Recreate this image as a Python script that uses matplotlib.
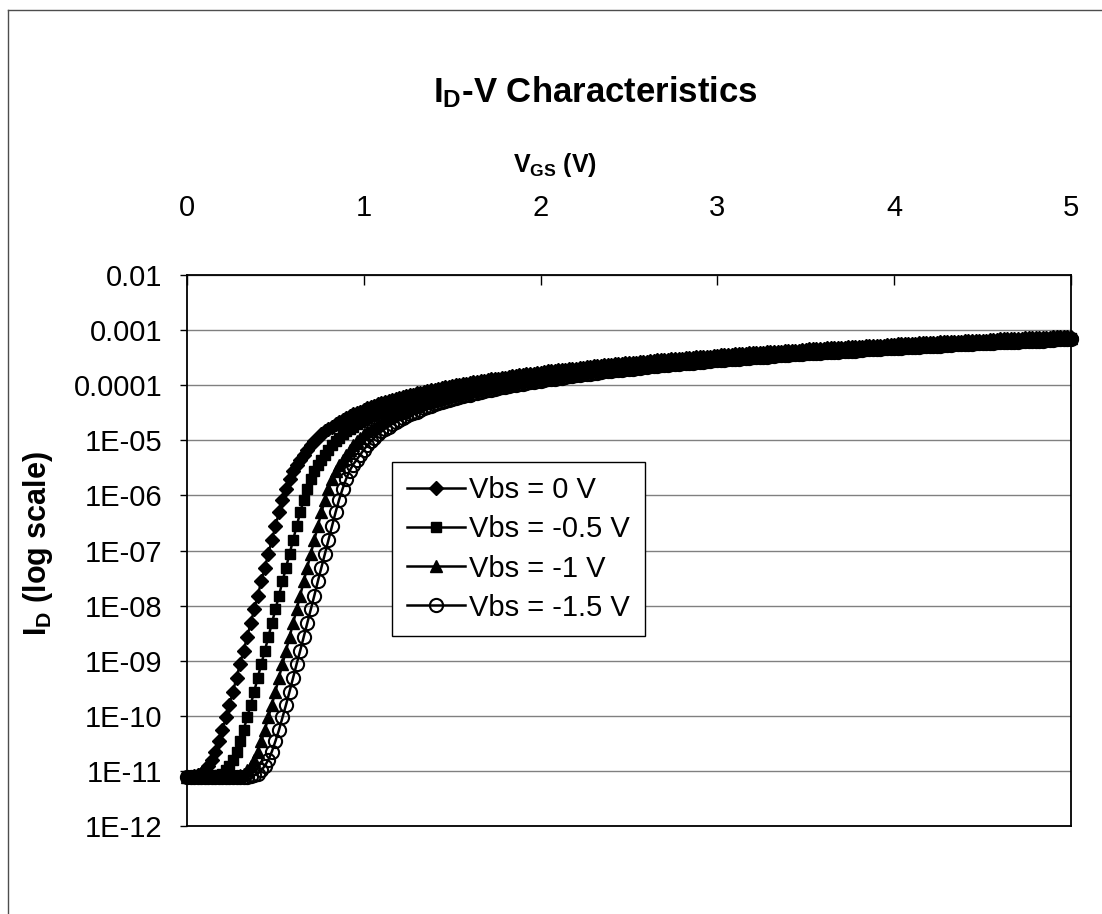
import numpy as np
import matplotlib
matplotlib.use('Agg')
import matplotlib.pyplot as plt
from matplotlib.lines import Line2D
from matplotlib.ticker import NullLocator

plt.rcParams['font.family'] = ['Liberation Sans', 'DejaVu Sans']
plt.rcParams['mathtext.default'] = 'regular'

# ==========================================
# Sweep: VGS from 0 to 5 V in 20 mV steps
# ==========================================
VGS_STEP = 0.02
vgs = np.round(np.arange(0, 5 + VGS_STEP / 2, VGS_STEP), 2)

# log10(ID) at every sweep point, one list per body bias
log_id_vbs_0 = [
    -11.12, -11.11, -11.10, -11.08, -11.05, -10.99, -10.91, -10.80, -10.65, -10.46,
    -10.26, -10.03, -9.80, -9.56, -9.31, -9.06, -8.82, -8.57, -8.32, -8.07,
    -7.82, -7.56, -7.31, -7.06, -6.81, -6.56, -6.31, -6.08, -5.88, -5.70,
    -5.55, -5.44, -5.35, -5.26, -5.17, -5.09, -5.02, -4.95, -4.89, -4.84,
    -4.79, -4.75, -4.70, -4.67, -4.63, -4.60, -4.56, -4.53, -4.50, -4.48,
    -4.45, -4.42, -4.40, -4.38, -4.35, -4.33, -4.31, -4.29, -4.27, -4.25,
    -4.24, -4.22, -4.20, -4.18, -4.17, -4.15, -4.14, -4.12, -4.11, -4.09,
    -4.08, -4.07, -4.05, -4.04, -4.03, -4.02, -4.00, -3.99, -3.98, -3.97,
    -3.96, -3.95, -3.94, -3.93, -3.92, -3.90, -3.89, -3.89, -3.88, -3.87,
    -3.86, -3.85, -3.84, -3.83, -3.82, -3.81, -3.80, -3.79, -3.79, -3.78,
    -3.77, -3.76, -3.75, -3.75, -3.74, -3.73, -3.72, -3.72, -3.71, -3.70,
    -3.70, -3.69, -3.68, -3.67, -3.67, -3.66, -3.65, -3.65, -3.64, -3.64,
    -3.63, -3.62, -3.62, -3.61, -3.60, -3.60, -3.59, -3.59, -3.58, -3.57,
    -3.57, -3.56, -3.56, -3.55, -3.55, -3.54, -3.54, -3.53, -3.53, -3.52,
    -3.52, -3.51, -3.50, -3.50, -3.49, -3.49, -3.48, -3.48, -3.48, -3.47,
    -3.47, -3.46, -3.46, -3.45, -3.45, -3.44, -3.44, -3.43, -3.43, -3.42,
    -3.42, -3.42, -3.41, -3.41, -3.40, -3.40, -3.39, -3.39, -3.39, -3.38,
    -3.38, -3.37, -3.37, -3.37, -3.36, -3.36, -3.35, -3.35, -3.35, -3.34,
    -3.34, -3.33, -3.33, -3.33, -3.32, -3.32, -3.32, -3.31, -3.31, -3.31,
    -3.30, -3.30, -3.29, -3.29, -3.29, -3.28, -3.28, -3.28, -3.27, -3.27,
    -3.27, -3.26, -3.26, -3.26, -3.25, -3.25, -3.25, -3.24, -3.24, -3.24,
    -3.23, -3.23, -3.23, -3.22, -3.22, -3.22, -3.22, -3.21, -3.21, -3.21,
    -3.20, -3.20, -3.20, -3.19, -3.19, -3.19, -3.19, -3.18, -3.18, -3.18,
    -3.17, -3.17, -3.17, -3.17, -3.16, -3.16, -3.16, -3.15, -3.15, -3.15,
    -3.15, -3.14, -3.14, -3.14, -3.14, -3.13, -3.13, -3.13, -3.12, -3.12,
    -3.12,
]

log_id_vbs_05 = [
    -11.12, -11.12, -11.12, -11.12, -11.12, -11.12,
    -11.12, -11.11, -11.10, -11.08, -11.05, -10.99, -10.91, -10.80, -10.65, -10.46,
    -10.26, -10.03, -9.80, -9.56, -9.31, -9.06, -8.82, -8.57, -8.32, -8.07,
    -7.82, -7.56, -7.31, -7.06, -6.81, -6.56, -6.31, -6.08, -5.88, -5.70,
    -5.55, -5.44, -5.35, -5.26, -5.17, -5.09, -5.02, -4.95, -4.89, -4.84,
    -4.79, -4.75, -4.70, -4.67, -4.63, -4.60, -4.56, -4.53, -4.50, -4.48,
    -4.45, -4.42, -4.40, -4.38, -4.35, -4.33, -4.31, -4.29, -4.27, -4.25,
    -4.24, -4.22, -4.20, -4.18, -4.17, -4.15, -4.14, -4.12, -4.11, -4.09,
    -4.08, -4.07, -4.05, -4.04, -4.03, -4.02, -4.00, -3.99, -3.98, -3.97,
    -3.96, -3.95, -3.94, -3.93, -3.92, -3.90, -3.89, -3.89, -3.88, -3.87,
    -3.86, -3.85, -3.84, -3.83, -3.82, -3.81, -3.80, -3.79, -3.79, -3.78,
    -3.77, -3.76, -3.75, -3.75, -3.74, -3.73, -3.72, -3.72, -3.71, -3.70,
    -3.70, -3.69, -3.68, -3.67, -3.67, -3.66, -3.65, -3.65, -3.64, -3.64,
    -3.63, -3.62, -3.62, -3.61, -3.60, -3.60, -3.59, -3.59, -3.58, -3.57,
    -3.57, -3.56, -3.56, -3.55, -3.55, -3.54, -3.54, -3.53, -3.53, -3.52,
    -3.52, -3.51, -3.50, -3.50, -3.49, -3.49, -3.48, -3.48, -3.48, -3.47,
    -3.47, -3.46, -3.46, -3.45, -3.45, -3.44, -3.44, -3.43, -3.43, -3.42,
    -3.42, -3.42, -3.41, -3.41, -3.40, -3.40, -3.39, -3.39, -3.39, -3.38,
    -3.38, -3.37, -3.37, -3.37, -3.36, -3.36, -3.35, -3.35, -3.35, -3.34,
    -3.34, -3.33, -3.33, -3.33, -3.32, -3.32, -3.32, -3.31, -3.31, -3.31,
    -3.30, -3.30, -3.29, -3.29, -3.29, -3.28, -3.28, -3.28, -3.27, -3.27,
    -3.27, -3.26, -3.26, -3.26, -3.25, -3.25, -3.25, -3.24, -3.24, -3.24,
    -3.23, -3.23, -3.23, -3.22, -3.22, -3.22, -3.22, -3.21, -3.21, -3.21,
    -3.20, -3.20, -3.20, -3.19, -3.19, -3.19, -3.19, -3.18, -3.18, -3.18,
    -3.17, -3.17, -3.17, -3.17, -3.16, -3.16, -3.16, -3.15, -3.15, -3.15,
    -3.15, -3.14, -3.14, -3.14, -3.14,
]

log_id_vbs_1 = [
    -11.12, -11.12, -11.12, -11.12, -11.12, -11.12,
    -11.12, -11.12, -11.12, -11.12, -11.12, -11.12,
    -11.12, -11.11, -11.10, -11.08, -11.05, -10.99, -10.91, -10.80, -10.65, -10.46,
    -10.26, -10.03, -9.80, -9.56, -9.31, -9.06, -8.82, -8.57, -8.32, -8.07,
    -7.82, -7.56, -7.31, -7.06, -6.81, -6.56, -6.31, -6.08, -5.88, -5.70,
    -5.55, -5.44, -5.35, -5.26, -5.17, -5.09, -5.02, -4.95, -4.89, -4.84,
    -4.79, -4.75, -4.70, -4.67, -4.63, -4.60, -4.56, -4.53, -4.50, -4.48,
    -4.45, -4.42, -4.40, -4.38, -4.35, -4.33, -4.31, -4.29, -4.27, -4.25,
    -4.24, -4.22, -4.20, -4.18, -4.17, -4.15, -4.14, -4.12, -4.11, -4.09,
    -4.08, -4.07, -4.05, -4.04, -4.03, -4.02, -4.00, -3.99, -3.98, -3.97,
    -3.96, -3.95, -3.94, -3.93, -3.92, -3.90, -3.89, -3.89, -3.88, -3.87,
    -3.86, -3.85, -3.84, -3.83, -3.82, -3.81, -3.80, -3.79, -3.79, -3.78,
    -3.77, -3.76, -3.75, -3.75, -3.74, -3.73, -3.72, -3.72, -3.71, -3.70,
    -3.70, -3.69, -3.68, -3.67, -3.67, -3.66, -3.65, -3.65, -3.64, -3.64,
    -3.63, -3.62, -3.62, -3.61, -3.60, -3.60, -3.59, -3.59, -3.58, -3.57,
    -3.57, -3.56, -3.56, -3.55, -3.55, -3.54, -3.54, -3.53, -3.53, -3.52,
    -3.52, -3.51, -3.50, -3.50, -3.49, -3.49, -3.48, -3.48, -3.48, -3.47,
    -3.47, -3.46, -3.46, -3.45, -3.45, -3.44, -3.44, -3.43, -3.43, -3.42,
    -3.42, -3.42, -3.41, -3.41, -3.40, -3.40, -3.39, -3.39, -3.39, -3.38,
    -3.38, -3.37, -3.37, -3.37, -3.36, -3.36, -3.35, -3.35, -3.35, -3.34,
    -3.34, -3.33, -3.33, -3.33, -3.32, -3.32, -3.32, -3.31, -3.31, -3.31,
    -3.30, -3.30, -3.29, -3.29, -3.29, -3.28, -3.28, -3.28, -3.27, -3.27,
    -3.27, -3.26, -3.26, -3.26, -3.25, -3.25, -3.25, -3.24, -3.24, -3.24,
    -3.23, -3.23, -3.23, -3.22, -3.22, -3.22, -3.22, -3.21, -3.21, -3.21,
    -3.20, -3.20, -3.20, -3.19, -3.19, -3.19, -3.19, -3.18, -3.18, -3.18,
    -3.17, -3.17, -3.17, -3.17, -3.16, -3.16, -3.16, -3.15, -3.15,
]

log_id_vbs_15 = [
    -11.12, -11.12, -11.12, -11.12, -11.12, -11.12, -11.12, -11.12,
    -11.12, -11.12, -11.12, -11.12, -11.12, -11.12, -11.12, -11.12,
    -11.12, -11.11, -11.10, -11.08, -11.05, -10.99, -10.91, -10.80, -10.65, -10.46,
    -10.26, -10.03, -9.80, -9.56, -9.31, -9.06, -8.82, -8.57, -8.32, -8.07,
    -7.82, -7.56, -7.31, -7.06, -6.81, -6.56, -6.31, -6.08, -5.88, -5.70,
    -5.55, -5.44, -5.35, -5.26, -5.17, -5.09, -5.02, -4.95, -4.89, -4.84,
    -4.79, -4.75, -4.70, -4.67, -4.63, -4.60, -4.56, -4.53, -4.50, -4.48,
    -4.45, -4.42, -4.40, -4.38, -4.35, -4.33, -4.31, -4.29, -4.27, -4.25,
    -4.24, -4.22, -4.20, -4.18, -4.17, -4.15, -4.14, -4.12, -4.11, -4.09,
    -4.08, -4.07, -4.05, -4.04, -4.03, -4.02, -4.00, -3.99, -3.98, -3.97,
    -3.96, -3.95, -3.94, -3.93, -3.92, -3.90, -3.89, -3.89, -3.88, -3.87,
    -3.86, -3.85, -3.84, -3.83, -3.82, -3.81, -3.80, -3.79, -3.79, -3.78,
    -3.77, -3.76, -3.75, -3.75, -3.74, -3.73, -3.72, -3.72, -3.71, -3.70,
    -3.70, -3.69, -3.68, -3.67, -3.67, -3.66, -3.65, -3.65, -3.64, -3.64,
    -3.63, -3.62, -3.62, -3.61, -3.60, -3.60, -3.59, -3.59, -3.58, -3.57,
    -3.57, -3.56, -3.56, -3.55, -3.55, -3.54, -3.54, -3.53, -3.53, -3.52,
    -3.52, -3.51, -3.50, -3.50, -3.49, -3.49, -3.48, -3.48, -3.48, -3.47,
    -3.47, -3.46, -3.46, -3.45, -3.45, -3.44, -3.44, -3.43, -3.43, -3.42,
    -3.42, -3.42, -3.41, -3.41, -3.40, -3.40, -3.39, -3.39, -3.39, -3.38,
    -3.38, -3.37, -3.37, -3.37, -3.36, -3.36, -3.35, -3.35, -3.35, -3.34,
    -3.34, -3.33, -3.33, -3.33, -3.32, -3.32, -3.32, -3.31, -3.31, -3.31,
    -3.30, -3.30, -3.29, -3.29, -3.29, -3.28, -3.28, -3.28, -3.27, -3.27,
    -3.27, -3.26, -3.26, -3.26, -3.25, -3.25, -3.25, -3.24, -3.24, -3.24,
    -3.23, -3.23, -3.23, -3.22, -3.22, -3.22, -3.22, -3.21, -3.21, -3.21,
    -3.20, -3.20, -3.20, -3.19, -3.19, -3.19, -3.19, -3.18, -3.18, -3.18,
    -3.17, -3.17, -3.17, -3.17, -3.16,
]

series_labels = ['Vbs = 0 V', 'Vbs = -0.5 V', 'Vbs = -1 V', 'Vbs = -1.5 V']
vgs_ticks = [0, 1, 2, 3, 4, 5]
id_ticks = [1e-12, 1e-11, 1e-10, 1e-9, 1e-8, 1e-7, 1e-6, 1e-5, 1e-4, 1e-3, 1e-2]
id_tick_labels = ['1E-12', '1E-11', '1E-10', '1E-09', '1E-08', '1E-07',
                  '1E-06', '1E-05', '0.0001', '0.001', '0.01']

# marker style for each curve
styles = [
    dict(marker='D', ms=7.0, mfc='k', mec='k'),
    dict(marker='s', ms=7.0, mfc='k', mec='k'),
    dict(marker='^', ms=9.0, mfc='k', mec='k'),
    dict(marker='o', ms=9.5, mfc='none', mec='k', mew=1.5),
]

fig = plt.figure(figsize=(11.02, 9.14), dpi=100)
ax = fig.add_axes([0.1697, 0.0963, 0.8022, 0.6028])

for label, logs, st in zip(series_labels,
                           [log_id_vbs_0, log_id_vbs_05, log_id_vbs_1, log_id_vbs_15],
                           styles):
    ax.plot(vgs, 10.0 ** np.array(logs), color='k', lw=1.8, label=label,
            clip_on=False, **st)

ax.set_yscale('log')
ax.set_xlim(0, 5)
ax.set_ylim(1e-12, 1e-2)
ax.set_yticks(id_ticks)
ax.set_yticklabels(id_tick_labels)
ax.yaxis.set_minor_locator(NullLocator())
ax.set_xticks(vgs_ticks)
ax.set_xticklabels([str(t) for t in vgs_ticks])

# x axis sits on top, like the spreadsheet chart
ax.xaxis.tick_top()
ax.xaxis.set_label_position('top')
ax.tick_params(axis='x', direction='in', length=7, width=1, pad=38, labelsize=21)
ax.tick_params(axis='y', direction='out', length=5, width=1, pad=13, labelsize=21)

ax.yaxis.grid(True, color='0.5', lw=1.0)
ax.set_axisbelow(True)
for sp in ax.spines.values():
    sp.set_linewidth(1.3)
    sp.set_color('k')

ax.set_xlabel('V$_{GS}$ (V)', fontsize=18, fontweight='bold')
ax.xaxis.set_label_coords(0.416, 1.2)
ax.xaxis.label.set_va('center')
ax.set_ylabel('I$_{D}$ (log scale)', fontsize=22, fontweight='bold')
ax.yaxis.set_label_coords(-0.169, 0.512)
ax.yaxis.label.set_va('center')

fig.text(595 / 1102, 1 - 92 / 914, 'I$_{D}$-V Characteristics',
         ha='center', va='center', fontsize=25, fontweight='bold')

leg = ax.legend(loc='upper left', bbox_to_anchor=(0.232, 0.661), frameon=True,
                fancybox=False, edgecolor='k', framealpha=1, fontsize=21,
                handlelength=2.0, handletextpad=0.15, labelspacing=0.38,
                borderpad=0.5, borderaxespad=0, numpoints=1)
leg.get_frame().set_linewidth(1.0)

# chart area border
fig.add_artist(Line2D([8 / 1102, 8 / 1102], [0, 1 - 10 / 914],
                      transform=fig.transFigure, color='0.3', lw=1))
fig.add_artist(Line2D([8 / 1102, 1], [1 - 10 / 914, 1 - 10 / 914],
                      transform=fig.transFigure, color='0.3', lw=1))

fig.savefig('out.png', dpi=100)
